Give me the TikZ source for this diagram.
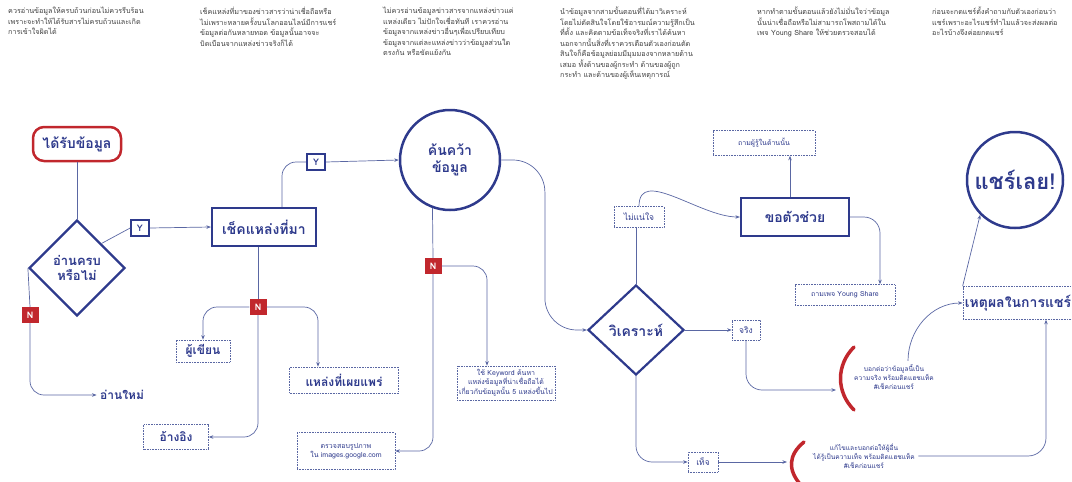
\documentclass[tikz,border=0pt]{standalone}
\usepackage{fontspec}
\setmainfont[Script=Thai]{Loma}
\usetikzlibrary{shapes.geometric,arrows.meta,calc}
\definecolor{navy}{HTML}{2E3A8C}
\definecolor{rd}{HTML}{C1272D}
\definecolor{lc}{HTML}{5A67A3}
\definecolor{tg}{HTML}{404040}
\begin{document}
\begin{tikzpicture}[x=1pt,y=-1pt,
  toptext/.style={anchor=north west,align=left,text=tg,font=\fontsize{7.2}{10.5}\selectfont,inner sep=0pt},
  bigbox/.style={draw=navy,line width=2.2pt,text=navy,font=\bfseries\fontsize{14}{16}\selectfont,align=center,inner sep=2pt},
  dotbox/.style={draw=lc,densely dotted,line width=0.6pt,text=navy,align=center,inner sep=2pt},
  lbl/.style={font=\bfseries\fontsize{12}{14}\selectfont},
  sml/.style={font=\fontsize{7}{9}\selectfont},
  ybox/.style={draw=navy,line width=1.6pt,text=navy,font=\bfseries\fontsize{9}{10}\selectfont,minimum width=18pt,minimum height=16pt,inner sep=0pt},
  nbox/.style={fill=rd,text=white,font=\bfseries\fontsize{9}{10}\selectfont,minimum width=17pt,minimum height=16pt,inner sep=0pt},
  conn/.style={draw=lc,line width=0.7pt},
  arr/.style={conn,-{Stealth[length=4.5pt,width=3.5pt]}},
  brk/.style={draw=rd,line width=3.5pt,line cap=round}
]
\useasboundingbox (0,0) rectangle (1072,482);

% top texts
\node[toptext] (t1) at (8,7) {ควรอ่านข้อมูลให้ครบถ้วนก่อนไม่ควรรีบร้อน\\เพราะจะทำให้ได้รับสารไม่ครบถ้วนและเกิด\\การเข้าใจผิดได้};
\node[toptext] (t2) at (200,7) {เช็คแหล่งที่มาของข่าวสารว่าน่าเชื่อถือหรือ\\ไม่เพราะหลายครั้งบนโลกออนไลน์มีการแชร์\\ข้อมูลต่อกันหลายทอด ข้อมูลนั้นอาจจะ\\บิดเบือนจากแหล่งข่าวจริงก็ได้};
\node[toptext] (t3) at (383,7) {ไม่ควรอ่านข้อมูลข่าวสารจากแหล่งข่าวแค่\\แหล่งเดียว ไม่ปักใจเชื่อทันที เราควรอ่าน\\ข้อมูลจากแหล่งข่าวอื่นๆเพื่อเปรียบเทียบ\\ข้อมูลจากแต่ละแหล่งข่าวว่าข้อมูลส่วนใด\\ตรงกัน หรือขัดแย้งกัน};
\node[toptext] (t4) at (560,7) {นำข้อมูลจากสามขั้นตอนที่ได้มาวิเคราะห์\\โดยไม่ตัดสินใจโดยใช้อารมณ์ความรู้สึกเป็น\\ที่ตั้ง และคิดตามข้อเท็จจริงที่เราได้ค้นหา\\นอกจากนั้นสิ่งที่เราควรเตือนตัวเองก่อนตัด\\สินใจก็คือข้อมูลย่อมมีมุมมองจากหลายด้าน\\เสมอ ทั้งด้านของผู้กระทำ ด้านของผู้ถูก\\กระทำ และด้านของผู้เห็นเหตุการณ์};
\node[toptext] (t5) at (757,7) {หากทำตามขั้นตอนแล้วยังไม่มั่นใจว่าข้อมูล\\นั้นน่าเชื่อถือหรือไม่สามารถโพสถามได้ใน\\เพจ Young Share ให้ช่วยตรวจสอบได้};
\node[toptext] (t6) at (932,7) {ก่อนจะกดแชร์ตั้งคำถามกับตัวเองก่อนว่า\\แชร์เพราะอะไรแชร์ทำไมแล้วจะส่งผลต่อ\\อะไรบ้างจึงค่อยกดแชร์};

% main nodes
\node[draw=rd,line width=2.5pt,rounded corners=11pt,minimum width=88pt,minimum height=34pt,text=navy,font=\bfseries\fontsize{14}{16}\selectfont] (start) at (77,144) {ได้รับข้อมูล};
\node[diamond,draw=navy,line width=2.2pt,minimum width=96pt,minimum height=96pt,inner sep=0pt,align=center,text=navy,font=\bfseries\fontsize{13}{15}\selectfont] (d1) at (77,268) {อ่านครบ\\หรือไม่};
\node[ybox] (y1) at (140,228) {Y};
\node[nbox] (n0) at (30,315) {N};
\node[text=navy,lbl] (reread) at (122,395) {อ่านใหม่};

\node[bigbox,minimum width=104pt,minimum height=38pt] (check) at (264,227) {เช็คแหล่งที่มา};
\node[ybox] (y2) at (316,162) {Y};
\node[nbox] (n1) at (258,307) {N};
\node[dotbox,lbl,minimum width=54pt,minimum height=22pt] (author) at (203,351) {ผู้เขียน};
\node[dotbox,lbl,minimum width=109pt,minimum height=26pt] (pub) at (344,380) {แหล่งที่เผยแพร่};
\node[dotbox,lbl,minimum width=65pt,minimum height=25pt] (ref) at (176,437) {อ้างอิง};

\node[circle,draw=navy,line width=2.5pt,minimum size=100pt,inner sep=0pt,align=center,text=navy,font=\bfseries\fontsize{14}{17}\selectfont] (research) at (450,160) {ค้นคว้า\\ข้อมูล};
\node[nbox] (n2) at (433,266) {N};
\node[dotbox,sml,minimum width=98pt,minimum height=34pt] (kw) at (506,383) {ใช้ Keyword ค้นหา\\แหล่งข้อมูลที่น่าเชื่อถือได้\\เกี่ยวกับข้อมูลนั้น 5 แหล่งขึ้นไป};
\node[dotbox,sml,minimum width=98pt,minimum height=37pt] (img) at (346,451) {ตรวจสอบรูปภาพ\\ใน images.google.com};

\node[diamond,draw=navy,line width=2.2pt,minimum width=96pt,minimum height=90pt,inner sep=0pt,text=navy,font=\bfseries\fontsize{14}{16}\selectfont] (analyze) at (636,330) {วิเคราะห์};
\node[dotbox,sml,font=\fontsize{8.5}{10}\selectfont,minimum width=50pt,minimum height=21pt] (unsure) at (639,217) {ไม่แน่ใจ};
\node[bigbox,minimum width=108pt,minimum height=38pt] (helper) at (795,217) {ขอตัวช่วย};
\node[dotbox,sml,minimum width=102pt,minimum height=25pt] (ask) at (764,143) {ถามผู้รู้ในด้านนั้น};
\node[dotbox,sml,minimum width=100pt,minimum height=21pt] (page) at (845,295) {ถามเพจ Young Share};
\node[dotbox,sml,font=\fontsize{8.5}{10}\selectfont,minimum width=28pt,minimum height=20pt] (true) at (746,330) {จริง};
\node[dotbox,sml,font=\fontsize{8.5}{10}\selectfont,minimum width=30pt,minimum height=20pt] (false) at (703,462) {เท็จ};

\node[text=navy,sml,font=\fontsize{6.6}{9}\selectfont,align=center] (msg1) at (894,377) {บอกต่อว่าข้อมูลนี้เป็น\\ความจริง พร้อมติดแฮชแท็ค\\\#เช็คก่อนแชร์};
\node[text=navy,sml,font=\fontsize{6.6}{9}\selectfont,align=center] (msg2) at (864,456) {แก้ไขและบอกต่อให้ผู้อื่น\\ได้รู้เป็นความเท็จ พร้อมติดแฮชแท็ค\\\#เช็คก่อนแชร์};
\draw[brk] (854,347) .. controls (836,365) and (836,392) .. (854,410);
\draw[brk] (804,442) .. controls (788,455) and (788,470) .. (800,484);
\coordinate (b1) at (836,390);
\coordinate (b2) at (787,462);

\node[dotbox,lbl,font=\bfseries\fontsize{14}{16}\selectfont,minimum width=108pt,minimum height=33pt] (reason) at (1018,303) {เหตุผลในการแชร์};
\node[circle,draw=navy,line width=2.5pt,minimum size=96pt,inner sep=0pt,text=navy,font=\bfseries\fontsize{22}{24}\selectfont] (share) at (1015,180) {แชร์เลย!};

% connectors
\draw[conn] (start.south) -- (d1.north);
\draw[conn] (d1.north east) -- (y1.west);
\draw[arr] (y1.east) -- (check.west);
\draw[conn] (d1.west) -- (n0.north);
\draw[arr,rounded corners=14pt] (n0.south) |- (reread.west);

\draw[conn,rounded corners=14pt] ([xshift=18pt]check.north) |- (y2.west);
\draw[arr] (y2.east) -- (research.west);
\draw[conn] (n1.north |- check.south) -- (n1.north);
\draw[arr,rounded corners=14pt] (n1.west) -| (author.north);
\draw[arr,rounded corners=14pt] (n1.east) -| ([xshift=-26pt]pub.north);
\draw[arr,rounded corners=14pt] (n1.south) |- (ref.east);

\draw[conn] (research.250) -- (n2.north);
\draw[arr,rounded corners=14pt] (n2.south) |- (img.east);
\draw[arr,rounded corners=14pt] (n2.east) -| ([xshift=-19pt]kw.north);
\draw[arr,rounded corners=32pt] (research.east) -| ([xshift=-42pt]analyze.west) -- (analyze.west);

\draw[conn] (analyze.north) -- (analyze.north |- unsure.south);
\draw[arr] (unsure.north) to[out=90,in=180] (helper.west);
\draw[arr] ([xshift=-5pt]helper.north) -- ([xshift=-5pt]helper.north |- ask.south);
\draw[arr,rounded corners=16pt] (helper.east) -| ([xshift=35pt]page.north);
\draw[arr] (analyze.east) -- (true.west);
\draw[arr,rounded corners=16pt] (true.south) |- (b1);
\draw[arr] ([xshift=14pt]msg1.north) to[out=90,in=180] (reason.west);
\draw[arr,rounded corners=16pt] (analyze.south) |- (false.west);
\draw[arr] (false.east) -- (b2);
\draw[arr,rounded corners=18pt] (msg2.east) -| ([xshift=28pt]reason.south);
\draw[arr] (reason.north west) -- (share.225);
\end{tikzpicture}
\end{document}
